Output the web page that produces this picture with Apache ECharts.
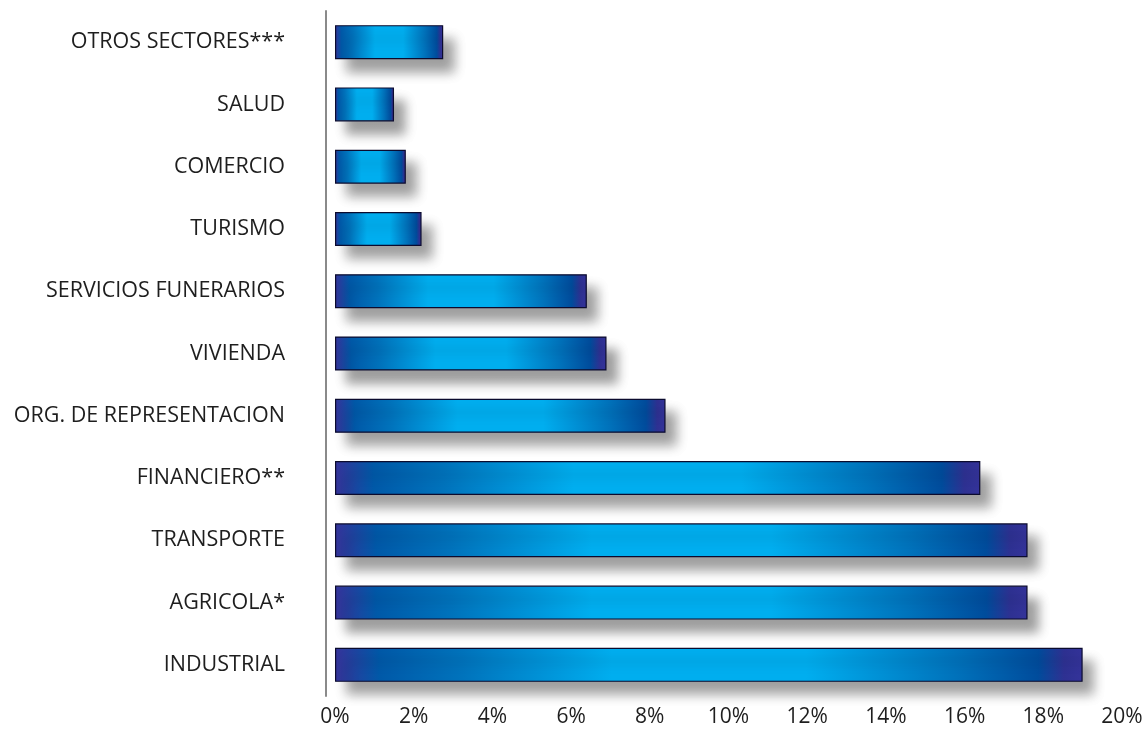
<!DOCTYPE html>
<html>
<head>
<meta charset="utf-8">
<title>Sectores</title>
<script src="https://cdn.jsdelivr.net/npm/echarts@6/dist/echarts.min.js"></script>
<style>
  html, body { margin: 0; padding: 0; background: #ffffff; }
  #chart { width: 1146px; height: 729px; }
</style>
</head>
<body>
<div id="chart"></div>
<script>
// Sectors, listed from the bottom row upwards
const sectors = [
  'INDUSTRIAL',
  'AGRICOLA*',
  'TRANSPORTE',
  'FINANCIERO**',
  'ORG. DE REPRESENTACION',
  'VIVIENDA',
  'SERVICIOS FUNERARIOS',
  'TURISMO',
  'COMERCIO',
  'SALUD',
  'OTROS SECTORES***'
];
// Share of each sector, in percent
const shares = [19.0, 17.6, 17.6, 16.4, 8.4, 6.9, 6.4, 2.2, 1.8, 1.5, 2.75];
// Percent axis
const axisMin = 0;
const axisMax = 20;
const axisStep = 2;

// Dark navy at the ends, bright cyan across the middle of each bar
const barFill = new echarts.graphic.LinearGradient(0, 0, 1, 0, [
  { offset: 0.00, color: '#36339a' },
  { offset: 0.06, color: '#0059a8' },
  { offset: 0.17, color: '#0073bc' },
  { offset: 0.37, color: '#00aeef' },
  { offset: 0.63, color: '#00aeef' },
  { offset: 0.83, color: '#0072bb' },
  { offset: 0.94, color: '#004c9c' },
  { offset: 0.975, color: '#2e3192' },
  { offset: 1.00, color: '#34339a' }
]);

const chart = echarts.init(document.getElementById('chart'), null, { renderer: 'canvas' });

chart.setOption({
  animation: false,
  backgroundColor: '#ffffff',
  textStyle: { fontFamily: 'Open Sans' },
  grid: {
    left: 335,
    right: 24,
    top: 11,
    bottom: 33,
    containLabel: false,
    outerBoundsMode: 'none'
  },
  xAxis: {
    type: 'value',
    min: axisMin,
    max: axisMax,
    interval: axisStep,
    axisLine: { show: false },
    axisTick: { show: false },
    splitLine: { show: false },
    axisLabel: {
      formatter: '{value}%',
      color: '#1e1e1e',
      fontSize: 21,
      fontFamily: 'Open Sans',
      margin: 11
    }
  },
  yAxis: {
    type: 'category',
    data: sectors,
    offset: 9,
    axisLine: { show: true, onZero: false, lineStyle: { color: '#8a8a8a', width: 2 } },
    axisTick: { show: false },
    splitLine: { show: false },
    axisLabel: {
      color: '#1e1e1e',
      fontSize: 21.5,
      fontFamily: 'Open Sans',
      margin: 41
    }
  },
  series: [{
    type: 'bar',
    data: shares,
    barWidth: 34,
    itemStyle: {
      color: barFill,
      borderColor: '#0b0b2e',
      borderWidth: 1.2,
      shadowColor: 'rgba(0, 0, 0, 0.38)',
      shadowBlur: 11,
      shadowOffsetX: 11,
      shadowOffsetY: 13
    }
  }]
});
</script>
</body>
</html>
